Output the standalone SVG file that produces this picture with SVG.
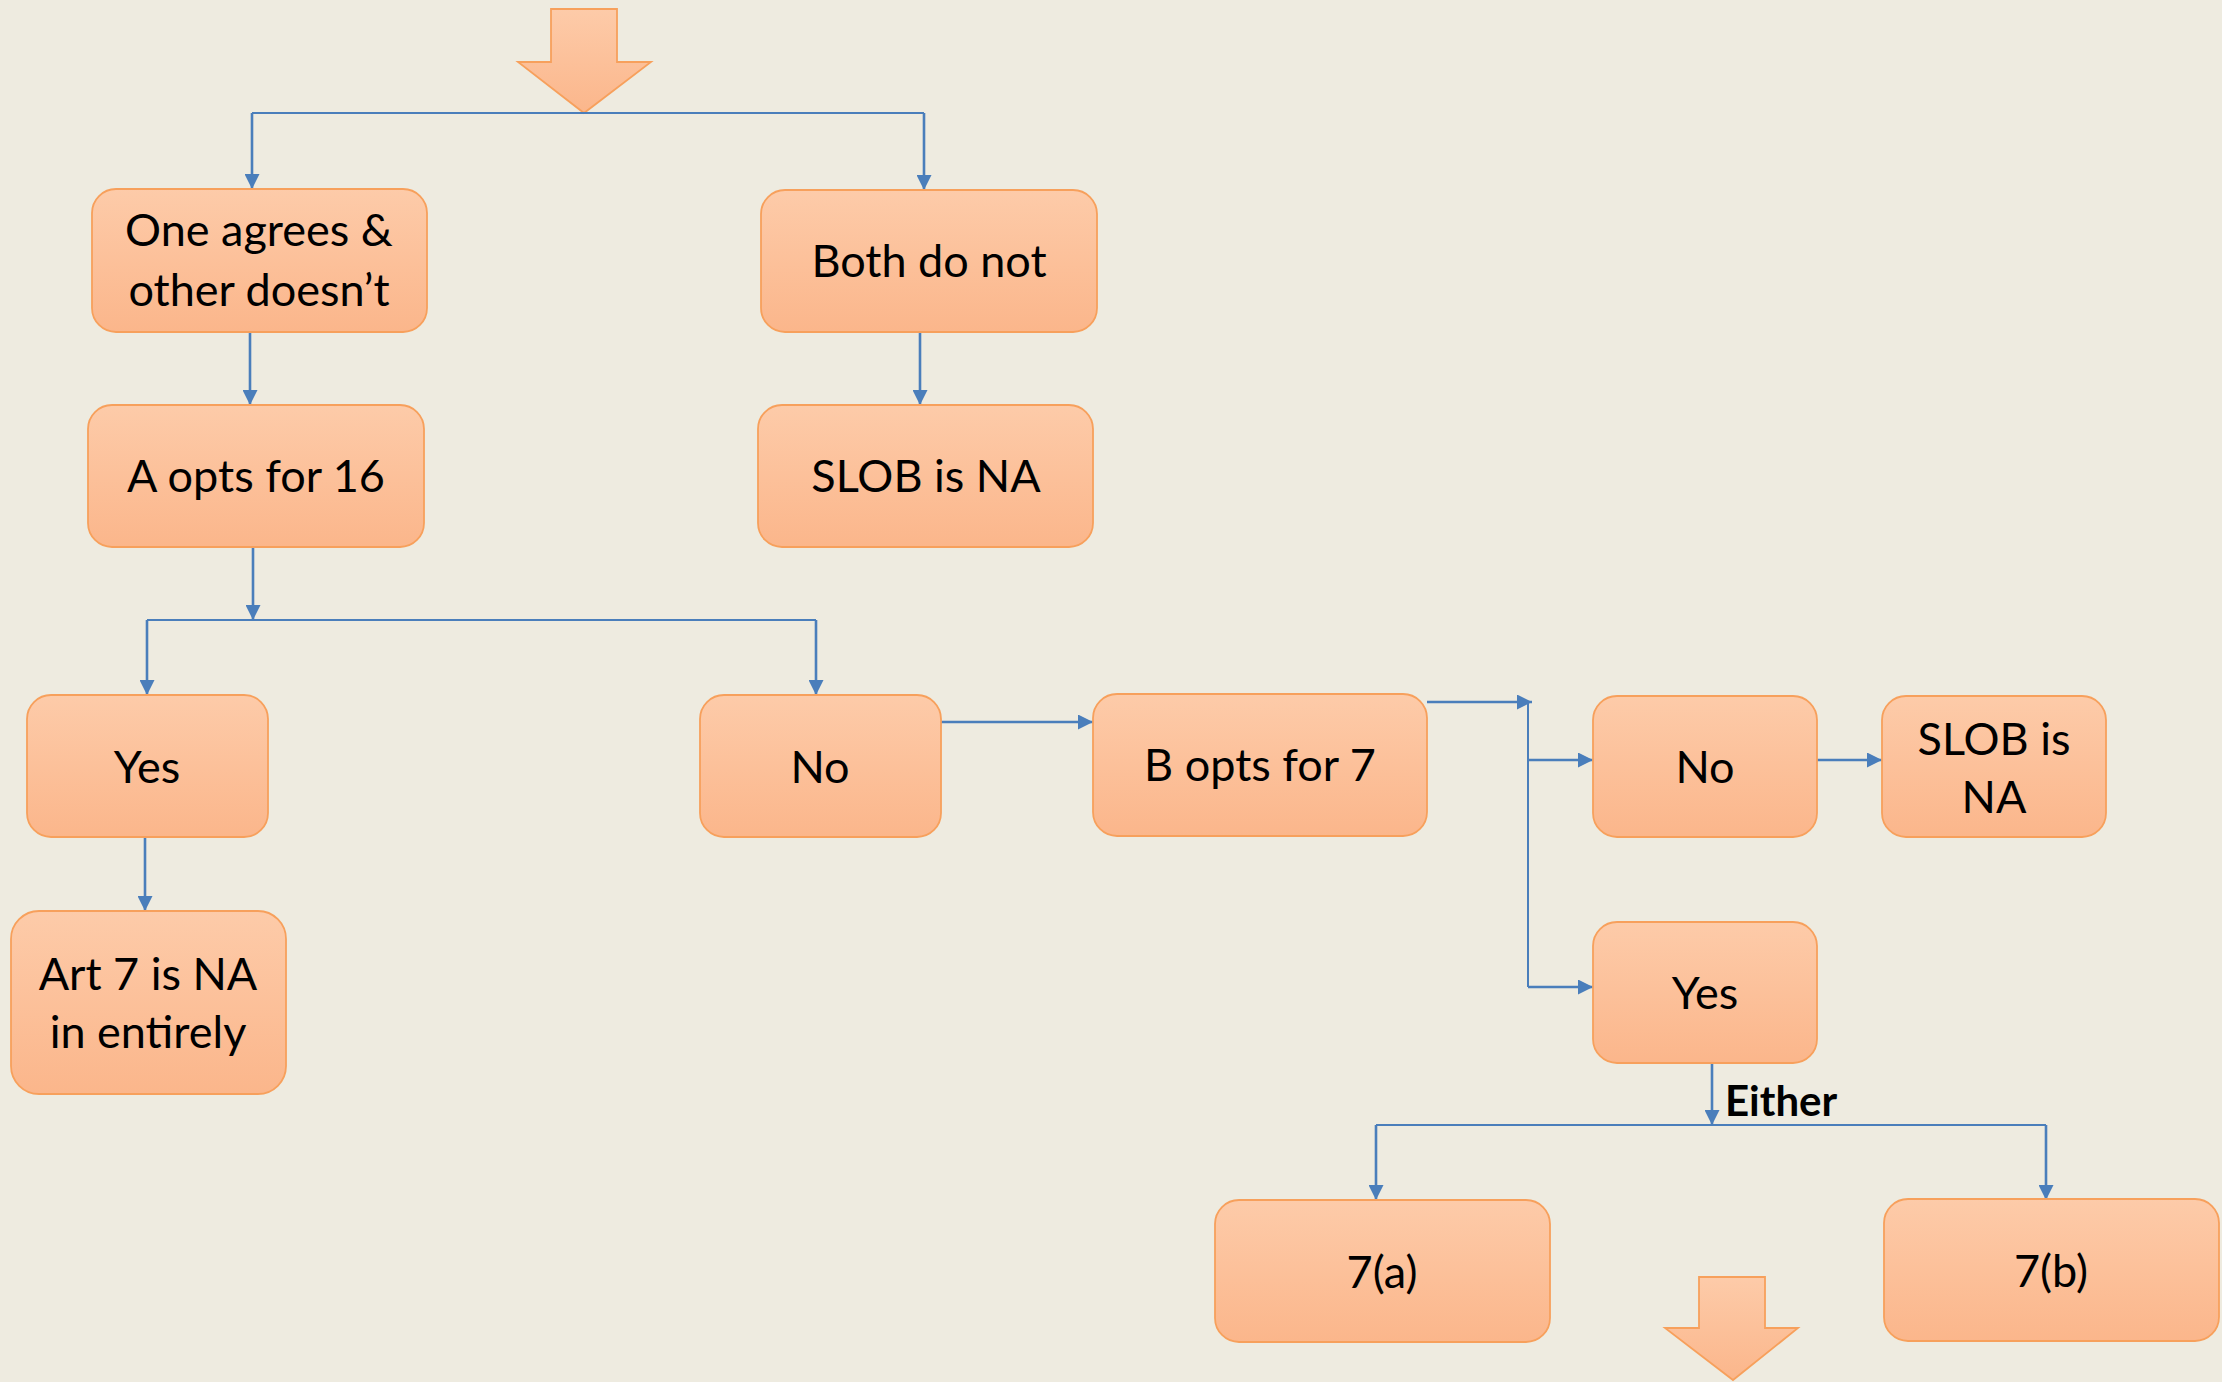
<svg xmlns="http://www.w3.org/2000/svg" width="2222" height="1382" viewBox="0 0 2222 1382">
  <defs>
    <linearGradient id="peach" x1="0" y1="0" x2="0" y2="1">
      <stop offset="0" stop-color="#FDCBA9"/>
      <stop offset="1" stop-color="#FBB68B"/>
    </linearGradient>
    <marker id="tri" viewBox="0 0 10 10" refX="10" refY="5" markerWidth="15" markerHeight="15" markerUnits="userSpaceOnUse" orient="auto">
      <path d="M0,0 L10,5 L0,10 z" fill="#4A7EBB"/>
    </marker>
    <style>
      .box { fill: url(#peach); stroke: #F7A05C; stroke-width: 1.8; }
      .lbl { font-family: Lato, "Liberation Sans", sans-serif; font-size: 45px; fill: #000; text-anchor: middle; }
      .bold { font-family: Lato, "Liberation Sans", sans-serif; font-size: 42px; font-weight: bold; fill: #000; }
      .ln { fill: none; stroke: #4A7EBB; stroke-width: 2; }
      .arw { fill: none; stroke: #4A7EBB; stroke-width: 2.6; marker-end: url(#tri); }
    </style>
  </defs>

  <rect width="2222" height="1382" fill="#EEEBE0"/>

  <!-- block arrows -->
  <g id="arrow-top">
    <polygon class="box" points="551,9 617,9 617,62 651,62 584,113 518,62 551,62"/>
  </g>
  <g id="arrow-bottom">
    <polygon class="box" points="1699,1277 1765,1277 1765,1328 1798,1328 1733,1380 1665,1328 1699,1328"/>
  </g>

  <!-- connectors -->
  <g id="connectors">
    <path class="ln" d="M252,113 H924"/>
    <path class="arw" d="M252,113 V189"/>
    <path class="arw" d="M924,113 V190"/>
    <path class="arw" d="M250,332 V405"/>
    <path class="arw" d="M920,332 V405"/>
    <path class="arw" d="M253,547 V620"/>
    <path class="ln" d="M147,620 H816"/>
    <path class="arw" d="M147,620 V695"/>
    <path class="arw" d="M816,620 V695"/>
    <path class="arw" d="M145,837 V911"/>
    <path class="arw" d="M941,722 H1093"/>
    <path class="arw" d="M1427,702 H1532"/>
    <path class="ln" d="M1528,702 V987"/>
    <path class="arw" d="M1528,760 H1593"/>
    <path class="arw" d="M1528,987 H1593"/>
    <path class="arw" d="M1817,760 H1882"/>
    <path class="arw" d="M1712,1063 V1125"/>
    <path class="ln" d="M1376,1125 H2046"/>
    <path class="arw" d="M1376,1125 V1200"/>
    <path class="arw" d="M2046,1125 V1200"/>
    <text class="bold" x="1725" y="1116">Either</text>
  </g>

  <!-- nodes -->
  <g id="one-agrees">
    <rect class="box" x="92" y="189" width="335" height="143" rx="24"/>
    <text class="lbl" x="259" y="246">One agrees &amp;</text>
    <text class="lbl" x="259" y="306">other doesn’t</text>
  </g>
  <g id="both-do-not">
    <rect class="box" x="761" y="190" width="336" height="142" rx="24"/>
    <text class="lbl" x="929" y="277">Both do not</text>
  </g>
  <g id="a-opts-16">
    <rect class="box" x="88" y="405" width="336" height="142" rx="24"/>
    <text class="lbl" x="256" y="492">A opts for 16</text>
  </g>
  <g id="slob-na-top">
    <rect class="box" x="758" y="405" width="335" height="142" rx="24"/>
    <text class="lbl" x="926" y="492">SLOB is NA</text>
  </g>
  <g id="yes-left">
    <rect class="box" x="27" y="695" width="241" height="142" rx="24"/>
    <text class="lbl" x="147" y="783">Yes</text>
  </g>
  <g id="art7-na">
    <rect class="box" x="11" y="911" width="275" height="183" rx="28"/>
    <text class="lbl" x="148" y="990">Art 7 is NA</text>
    <text class="lbl" x="148" y="1048">in entirely</text>
  </g>
  <g id="no-left">
    <rect class="box" x="700" y="695" width="241" height="142" rx="24"/>
    <text class="lbl" x="820" y="783">No</text>
  </g>
  <g id="b-opts-7">
    <rect class="box" x="1093" y="694" width="334" height="142" rx="24"/>
    <text class="lbl" x="1260" y="781">B opts for 7</text>
  </g>
  <g id="no-right">
    <rect class="box" x="1593" y="696" width="224" height="141" rx="24"/>
    <text class="lbl" x="1705" y="783">No</text>
  </g>
  <g id="slob-na-right">
    <rect class="box" x="1882" y="696" width="224" height="141" rx="24"/>
    <text class="lbl" x="1994" y="755">SLOB is</text>
    <text class="lbl" x="1994" y="813">NA</text>
  </g>
  <g id="yes-right">
    <rect class="box" x="1593" y="922" width="224" height="141" rx="24"/>
    <text class="lbl" x="1705" y="1009">Yes</text>
  </g>
  <g id="seven-a">
    <rect class="box" x="1215" y="1200" width="335" height="142" rx="24"/>
    <text class="lbl" x="1382" y="1288">7(a)</text>
  </g>
  <g id="seven-b">
    <rect class="box" x="1884" y="1199" width="335" height="142" rx="24"/>
    <text class="lbl" x="2051" y="1287">7(b)</text>
  </g>
</svg>
